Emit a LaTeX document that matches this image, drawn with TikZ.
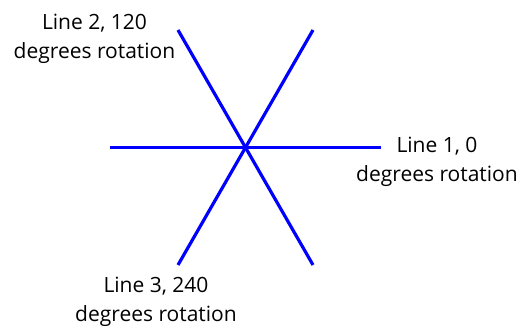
\documentclass[tikz,border=0pt]{standalone}
\usepackage{fontspec}
\setmainfont{Open Sans}
\begin{document}
\begin{tikzpicture}[x=1pt,y=-1pt,
  spoke/.style={draw=blue,line width=3.5pt},
  lbl/.style={align=center,inner sep=0pt,font=\fontsize{21}{28.5}\selectfont}]
\useasboundingbox (0,0) rectangle (525,326);
\coordinate (c) at (245.5,147.5);
\coordinate (h1) at (110,147.5);
\coordinate (h2) at (381,147.5);
\coordinate (a1) at (178,30);
\coordinate (a2) at (313,265);
\coordinate (b1) at (313,30);
\coordinate (b2) at (178,265);
\draw[spoke] (h1) -- (h2);
\draw[spoke,line width=3.2pt] (a1) -- (a2);
\draw[spoke,line width=3.2pt] (b1) -- (b2);
\node[lbl] (l2) at (94.5,39) {Line 2, 120\\degrees rotation};
\node[lbl] (l1) at (437,162) {Line 1, 0\\degrees rotation};
\node[lbl] (l3) at (156,302) {Line 3, 240\\degrees rotation};
\end{tikzpicture}
\end{document}
